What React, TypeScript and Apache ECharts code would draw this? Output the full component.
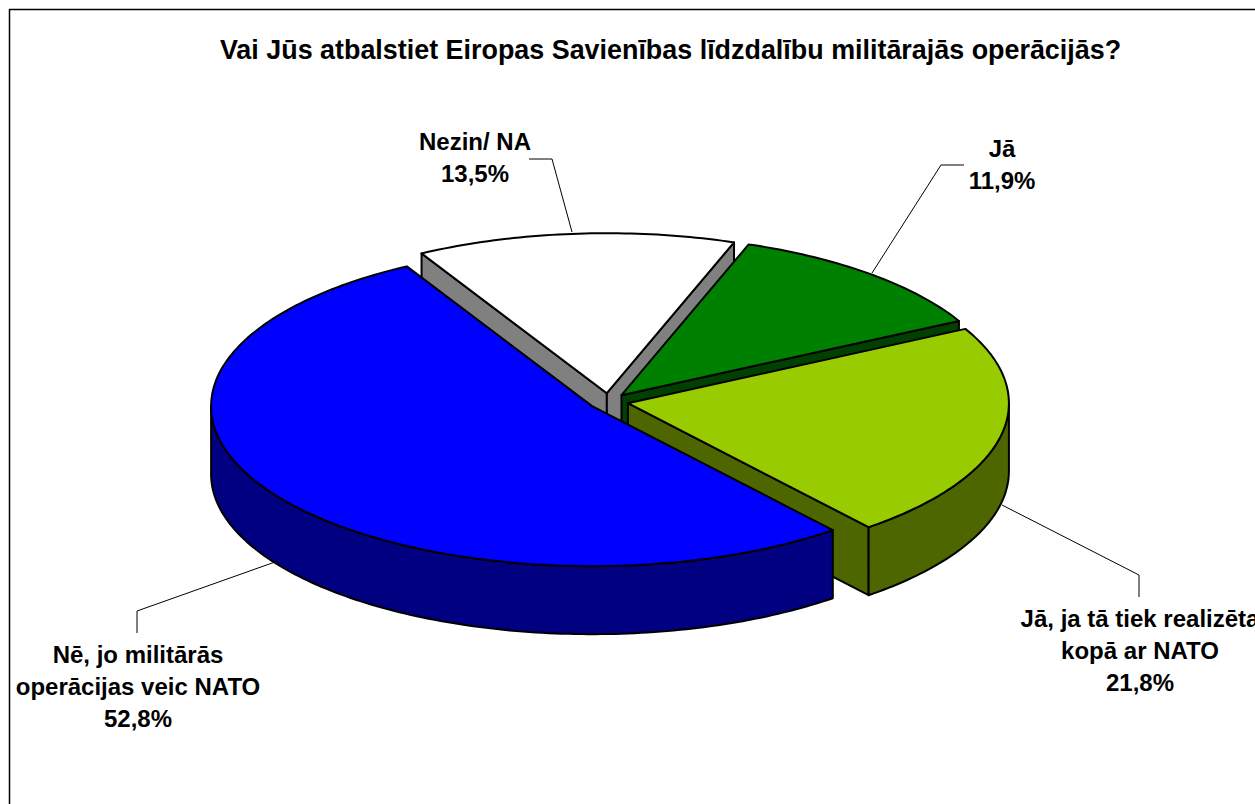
import React, { useEffect, useRef } from "react";
import * as echarts from "echarts";

const titleText = "Vai Jūs atbalstiet Eiropas Savienības līdzdalību militārajās operācijās?";
const categories = ["Nezin/ NA", "Jā", "Jā, ja tā tiek realizēta\nkopā ar NATO", "Nē, jo militārās\noperācijas veic NATO"];
const shares = [13.5, 11.9, 21.8, 52.8];
const topColors = ["#FFFFFF", "#008000", "#99CC00", "#0000FF"];
const sideColors = ["#808080", "#004000", "#4D6600", "#000080"];

// Layout of the drawn pie
const CX = 608.5, CY = 401.5, RX = 381, RY = 160, DEPTH = 68, EXPLODE = 0.052;
const START_DEG = -119.1;
const labelCenters = [[475, 157], [1002, 164.5], [1140, 650], [138, 686]];
const leaderPaths = [
  [[529, 159], [552, 159], [572, 232]],
  [[872, 273], [941, 165], [964, 165]],
  [[1002, 505], [1139, 575], [1139, 597]],
  [[137, 633], [137, 611], [275, 562]],
];

const rad = (d: number) => (d * Math.PI) / 180;

function renderSlice(params: any, api: any) {
  const i = params.dataIndex;
  const total = shares.reduce((a, b) => a + b, 0);
  const before = shares.slice(0, i).reduce((a, b) => a + b, 0);
  const a0 = START_DEG + (before / total) * 360;
  const a1 = a0 + (api.value(0) / total) * 360;
  const mid = rad((a0 + a1) / 2);
  const tx = CX + EXPLODE * RX * Math.cos(mid);
  const ty = CY + EXPLODE * RY * Math.sin(mid);
  const pt = (deg: number, dz = 0) => [tx + RX * Math.cos(rad(deg)), ty + RY * Math.sin(rad(deg)) + dz];
  const arc = (from: number, to: number, dz = 0) => {
    const n = Math.max(2, Math.ceil(Math.abs(to - from)));
    const out: number[][] = [];
    for (let k = 0; k <= n; k++) out.push(pt(from + ((to - from) * k) / n, dz));
    return out;
  };
  const edge = { stroke: "#000", lineWidth: 2, lineJoin: "round" };
  const side = { ...edge, fill: sideColors[i] };
  const children: any[] = [];
  const face = (points: number[][]) => children.push({ type: "polygon", shape: { points }, style: side });
  const cutFace = (deg: number) => {
    const p = pt(deg);
    face([[tx, ty], p, [p[0], p[1] + DEPTH], [tx, ty + DEPTH]]);
  };
  if (Math.cos(rad(a0)) < 0) cutFace(a0);
  if (Math.cos(rad(a1)) > 0) cutFace(a1);
  // outer wall: only the front half of the rim can be seen
  for (const shift of [0, 360, -360]) {
    const from = Math.max(a0 + shift, 0);
    const to = Math.min(a1 + shift, 180);
    if (to > from) face([...arc(from, to), ...arc(to, from, DEPTH)]);
  }
  children.push({
    type: "polygon",
    shape: { points: [[tx, ty], ...arc(a0, a1)] },
    style: { ...edge, fill: topColors[i] },
  });
  children.push({
    type: "polyline",
    silent: true,
    shape: { points: leaderPaths[i] },
    style: { stroke: "#000", lineWidth: 1, fill: "none" },
  });
  const label = `${categories[i]}\n${String(api.value(0).toFixed(1)).replace(".", ",")}%`;
  children.push({
    type: "text",
    x: labelCenters[i][0],
    y: labelCenters[i][1],
    z2: 10,
    style: {
      text: label,
      fill: "#000",
      font: 'bold 24px "Liberation Sans", Arial, sans-serif',
      lineHeight: 32,
      align: "center",
      verticalAlign: "middle",
    },
  });
  return { type: "group", children };
}

export default function App() {
  const ref = useRef<HTMLDivElement>(null);
  useEffect(() => {
    document.body.style.margin = "0";
    const chart = echarts.init(ref.current!, null, { renderer: "svg" });
    chart.setOption({
      animation: false,
      backgroundColor: "#fff",
      title: {
        text: titleText,
        left: 665.5,
        top: 31,
        textAlign: "center",
        textStyle: { fontFamily: '"Liberation Sans", Arial, sans-serif', fontWeight: "bold", fontSize: 26.9, color: "#000" },
      },
      graphic: [
        { type: "line", shape: { x1: 9.5, y1: 9, x2: 9.5, y2: 804 }, style: { stroke: "#000", lineWidth: 1.5 } },
        { type: "line", shape: { x1: 9, y1: 9.5, x2: 1255, y2: 9.5 }, style: { stroke: "#000", lineWidth: 1.5 } },
      ],
      series: [
        {
          type: "custom",
          coordinateSystem: "none",
          renderItem: renderSlice,
          data: shares.map((v) => [v]),
          encode: { value: 0 },
          clip: false,
        },
      ],
    });
    return () => chart.dispose();
  }, []);
  return <div ref={ref} style={{ position: "absolute", left: 0, top: 0, width: 1255, height: 804, overflow: "hidden" }} />;
}
